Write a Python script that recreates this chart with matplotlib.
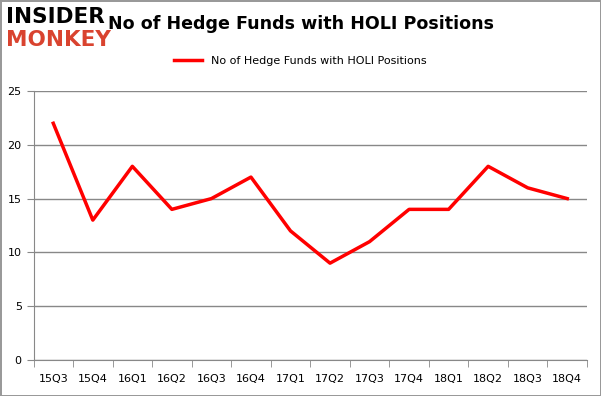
import matplotlib.pyplot as plt
import numpy as np

quarters = ['15Q3', '15Q4', '16Q1', '16Q2', '16Q3', '16Q4', '17Q1', '17Q2',
            '17Q3', '17Q4', '18Q1', '18Q2', '18Q3', '18Q4']
funds = [22, 13, 18, 14, 15, 17, 12, 9, 11, 14, 14, 18, 16, 15]
yticks = [0, 5, 10, 15, 20, 25]

fig = plt.figure(figsize=(6.01, 3.96), dpi=100)
fig.patch.set_edgecolor('#999999')
fig.patch.set_linewidth(2)

ax = fig.add_axes([33.5 / 601, 36 / 396, 553.5 / 601, 269 / 396])
x = np.arange(len(quarters))
ax.plot(x, funds, color='#ff0000', linewidth=2.5, label='No of Hedge Funds with HOLI Positions')

ax.set_xlim(-0.5, len(quarters) - 0.5)
ax.set_ylim(0, 25)
ax.set_yticks(yticks)
ax.set_xticks(x)
ax.set_xticklabels(quarters)
ax.set_xticks(np.arange(-0.5, len(quarters), 1), minor=True)
ax.tick_params(axis='x', which='major', length=0, labelsize=8, pad=10)
ax.tick_params(axis='x', which='minor', length=5, color='#888888')
ax.tick_params(axis='y', length=5, color='#888888', labelsize=8)
ax.grid(axis='y', color='#888888', linewidth=1)
ax.set_axisbelow(True)
for s in ['top', 'right']:
    ax.spines[s].set_visible(False)
for s in ['left', 'bottom']:
    ax.spines[s].set_color('#888888')

fig.text(0.5, 0.94, 'No of Hedge Funds with HOLI Positions', ha='center', va='center',
         fontsize=12.6, fontweight='bold')
fig.text(0.01, 0.958, 'INSIDER', fontsize=15.5, fontweight='black', color='black',
         va='center', ha='left', family='DejaVu Sans')
fig.text(0.01, 0.9, 'MONKEY', fontsize=15.5, fontweight='black', color='#d9432f',
         va='center', ha='left', family='DejaVu Sans')

fig.legend(loc='center', bbox_to_anchor=(0.5, 0.845), frameon=False, fontsize=8,
           handlelength=2.5)

fig.savefig('out.png', dpi=100, edgecolor=fig.get_edgecolor())
